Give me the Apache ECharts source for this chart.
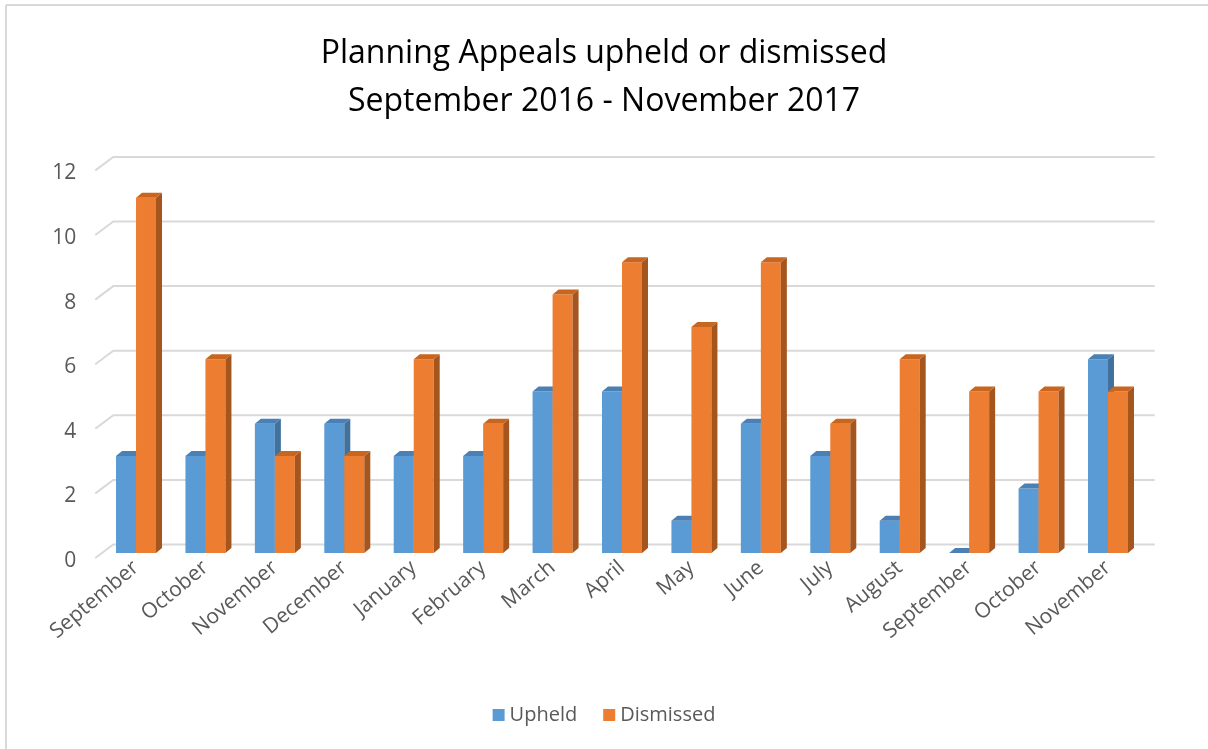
<!DOCTYPE html>
<html><head><meta charset="utf-8">
<script src="https://cdn.jsdelivr.net/npm/echarts@6/dist/echarts.min.js"></script>
<style>html,body{margin:0;padding:0;background:#fff}#c{width:1208px;height:749px}</style>
</head><body><div id="c"></div>
<script>
const months = ['September','October','November','December','January','February','March','April','May','June','July','August','September','October','November'];
const upheld = [3,3,4,4,3,3,5,5,1,4,3,1,0,2,6];
const dismissed = [11,6,3,3,6,4,8,9,7,9,4,6,5,5,5];
const yTicks = [0,2,4,6,8,10,12];
const seriesNames = ['Upheld','Dismissed'];
const titleLines = ['Planning Appeals upheld or dismissed','September 2016 - November 2017'];

const FONT = 'Open Sans';
const GRAY = '#595959';

function barRender(side, colors) {
  return function (params, api) {
    const i = api.value(0), v = api.value(1);
    const p = api.coord([i, v]);
    const p0 = api.coord([i, 0]);
    const W = 20, DX = 6, DY = 5;
    const x0 = side < 0 ? p[0] - W : p[0];
    const x1 = x0 + W;
    const yT = p[1], yB = p0[1];
    return {
      type: 'group',
      children: [
        {type: 'rect', shape: {x: x0, y: yT, width: W, height: yB - yT}, style: {fill: colors[0]}},
        {type: 'polygon', shape: {points: [[x1, yB], [x1, yT], [x1 + DX, yT - DY], [x1 + DX, yB - DY]]}, style: {fill: colors[1]}},
        {type: 'polygon', shape: {points: [[x0, yT], [x1, yT], [x1 + DX, yT - DY], [x0 + DX, yT - DY]]}, style: {fill: colors[2]}}
      ]
    };
  };
}

function gridRender(params, api) {
  const cs = params.coordSys;
  const y = api.coord([0, api.value(1)])[1];
  return {
    type: 'polyline',
    shape: {points: [[cs.x - 6, y + 5], [cs.x + 12, y - 8.5], [cs.x + cs.width + 12, y - 8.5]]},
    style: {stroke: '#d9d9d9', lineWidth: 2, fill: null}
  };
}

const chart = echarts.init(document.getElementById('c'));
chart.setOption({
  animation: false,
  backgroundColor: '#fff',
  textStyle: {fontFamily: FONT},
  title: {
    text: titleLines.join('\n'),
    left: 'center',
    top: 25,
    textStyle: {fontFamily: FONT, fontSize: 32, lineHeight: 48, color: '#000', fontWeight: 'normal'}
  },
  graphic: [
    {type: 'line', shape: {x1: 6, y1: 5, x2: 1208, y2: 5}, style: {stroke: '#d9d9d9', lineWidth: 2}},
    {type: 'line', shape: {x1: 6, y1: 5, x2: 6, y2: 749}, style: {stroke: '#d9d9d9', lineWidth: 2}}
  ],
  legend: {
    data: seriesNames,
    bottom: 19,
    left: 'center',
    icon: 'rect',
    itemWidth: 12,
    itemHeight: 12,
    itemGap: 26,
    itemTextGap: 7,
    textStyle: {fontFamily: FONT, fontSize: 20, color: GRAY}
  },
  grid: {left: 101.3, right: 65.3, top: 165.4, bottom: 196},
  xAxis: {
    type: 'category',
    data: months,
    axisLine: {show: false},
    axisTick: {show: false},
    axisLabel: {interval: 0, rotate: 40, margin: 12, color: GRAY, fontSize: 21, fontFamily: FONT}
  },
  yAxis: {
    type: 'value',
    min: 0, max: 12, interval: 2,
    splitLine: {show: false},
    axisLine: {show: false},
    axisTick: {show: false},
    axisLabel: {margin: 25, color: GRAY, fontSize: 21, fontFamily: FONT, verticalAlign: 'top', lineHeight: 16}
  },
  series: [
    {type: 'custom', silent: true, z: 1, renderItem: gridRender, data: yTicks.map(v => [0, v])},
    {name: seriesNames[0], type: 'custom', z: 2, itemStyle: {color: '#5B9BD5'},
      renderItem: barRender(-1, ['#5B9BD5', '#41719C', '#4A80B3']), data: upheld.map((v, i) => [i, v])},
    {name: seriesNames[1], type: 'custom', z: 3, itemStyle: {color: '#ED7D31'},
      renderItem: barRender(1, ['#ED7D31', '#A5561F', '#C8651F']), data: dismissed.map((v, i) => [i, v])}
  ]
});
</script></body></html>
